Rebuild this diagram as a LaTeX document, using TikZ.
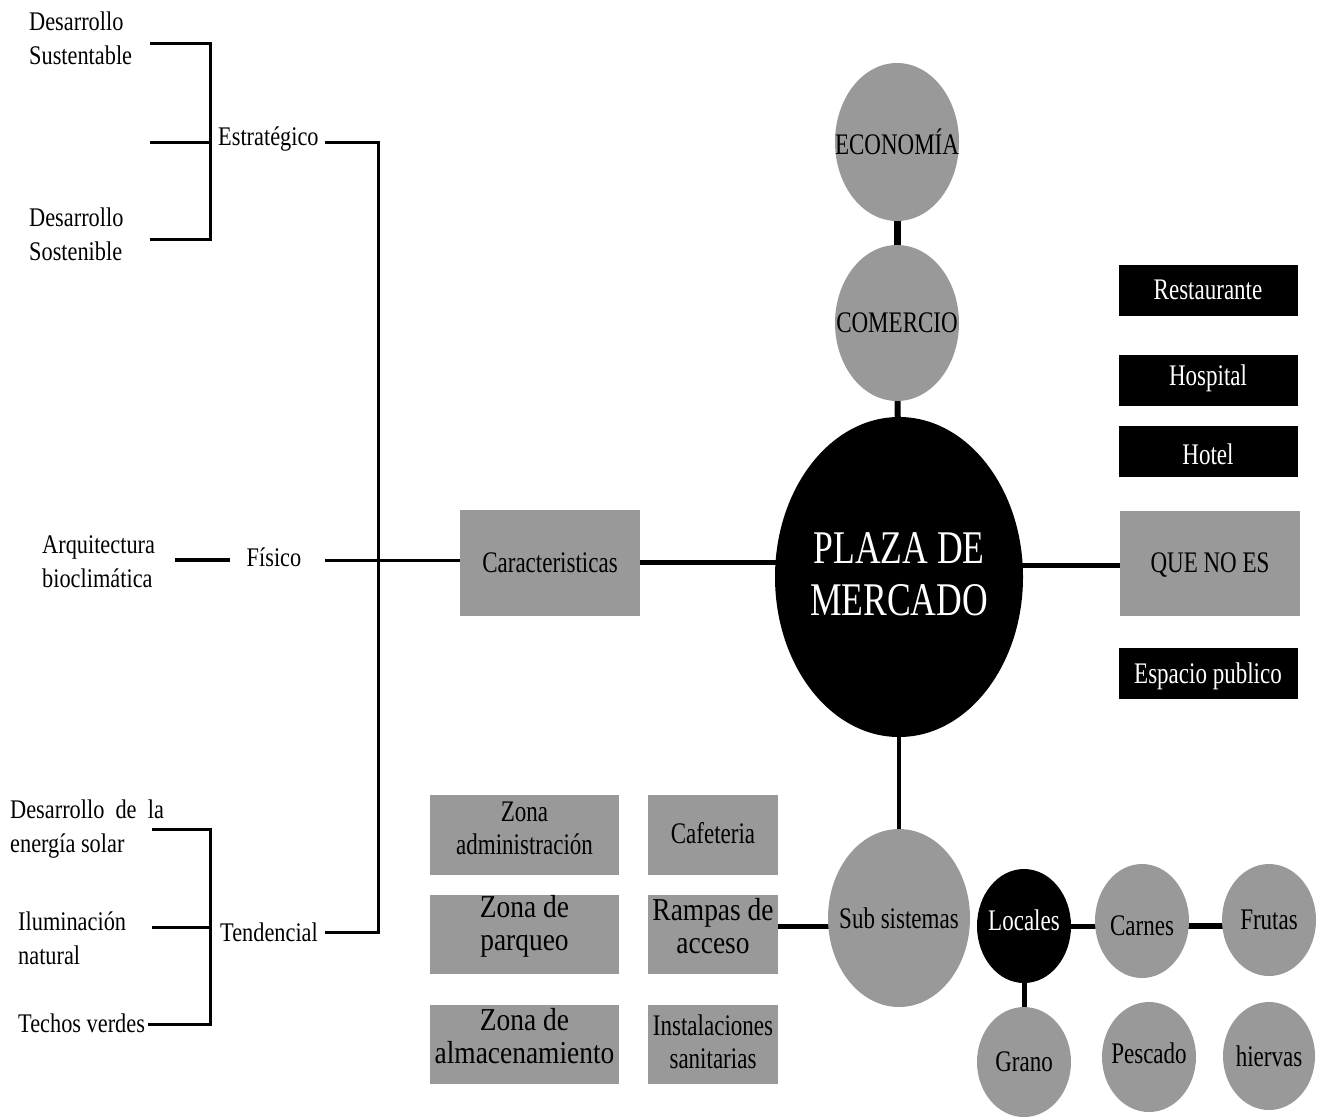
\documentclass[tikz,border=0pt]{standalone}
\usepackage{fontspec}
\setmainfont{Liberation Serif}[FakeStretch=0.77]
\newfontfamily\leftfont{Liberation Serif}[FakeStretch=0.83]
\newfontfamily\widefont{Liberation Serif}[FakeStretch=0.86]
\newfontfamily\plazafont{Liberation Serif}[FakeStretch=0.76]
\usetikzlibrary{shapes.geometric,backgrounds}
\definecolor{grayfill}{HTML}{999999}
\begin{document}
\begin{tikzpicture}[x=1bp,y=-1bp,
  txt/.style={font=\leftfont\fontsize{27}{34}\selectfont, inner sep=0pt, align=left},
  lbl/.style={inner sep=0pt, align=center, font=\fontsize{30}{33}\selectfont},
  wlbl/.style={lbl, font=\widefont\fontsize{32}{33}\selectfont},
  wht/.style={lbl, text=white},
  graybox/.style={rectangle, fill=grayfill, inner sep=0pt},
  blackbox/.style={rectangle, fill=black, inner sep=0pt, minimum width=179bp, minimum height=51bp},
  grayell/.style={ellipse, fill=grayfill, inner sep=0pt},
  blackell/.style={ellipse, fill=black, inner sep=0pt},
  thinln/.style={line width=3bp},
  midln/.style={line width=4bp},
  thickln/.style={line width=5bp},
  heavyln/.style={line width=7bp}]
\useasboundingbox (0,0) rectangle (1324,1117);

% ---------- left text nodes ----------
\node[txt, anchor=west] (sust) at (29,38) {Desarrollo\\Sustentable};
\node[txt, anchor=west] (sost) at (29,234) {Desarrollo\\Sostenible};
\node[txt, anchor=west] (estr) at (218,139) {Estratégico};
\node[txt, anchor=west] (arq) at (42,562) {Arquitectura\\bioclimática};
\node[txt] (fis) at (274,557) {Físico};
\node[txt, anchor=west] (solar) at (10,829) {Desarrollo\ \ de\ \ la\\energía solar};
\node[txt, anchor=west] (ilum) at (18,938) {Iluminación\\natural};
\node[txt, anchor=west] (techo) at (18,1023) {Techos verdes};
\node[txt, anchor=west] (tend) at (220,932) {Tendencial};

% bracket coordinates
\coordinate (s1) at (150,43);  \coordinate (s1r) at (210,43);
\coordinate (s2) at (150,142); \coordinate (s2r) at (210,142);
\coordinate (s3) at (150,239); \coordinate (s3r) at (210,239);
\coordinate (e1) at (325,142); \coordinate (e2) at (378,142);
\coordinate (t1) at (325,932); \coordinate (t2) at (378,932);
\coordinate (a1) at (175,560); \coordinate (a2) at (230,560);
\coordinate (f1) at (325,560);
\coordinate (u1) at (152,829); \coordinate (u1r) at (210,829);
\coordinate (u2) at (152,927); \coordinate (u2r) at (210,927);
\coordinate (u3) at (148,1024); \coordinate (u3r) at (210,1024);

% ---------- central nodes ----------
\node[graybox, minimum width=180bp, minimum height=106bp,
      label={[lbl]center:Caracteristicas}] (car) at (550,563) {};
\node[blackell, minimum width=248bp, minimum height=320bp,
      label={[wht, yshift=3bp, font=\plazafont\fontsize{47}{52}\selectfont]center:PLAZA DE\\MERCADO}] (plaza) at (899,577) {};
\node[graybox, minimum width=180bp, minimum height=105bp,
      label={[lbl, yshift=-2bp]center:QUE NO ES}] (que) at (1210,563) {};
\node[grayell, minimum width=124bp, minimum height=158bp,
      label={[lbl]center:ECONOMÍA}] (eco) at (897,142) {};
\node[grayell, minimum width=124bp, minimum height=156bp,
      label={[lbl]center:COMERCIO}] (com) at (897,323) {};

\node[blackbox, label={[wht]center:Restaurante}] (rest) at (1208,290) {};
\node[blackbox, label={[wht, yshift=2bp]center:Hospital}] (hosp) at (1208,380) {};
\node[blackbox, label={[wht, yshift=-3bp]center:Hotel}] (hotel) at (1208,451) {};
\node[blackbox, label={[wht, yshift=-3bp]center:Espacio publico}] (esp) at (1208,673) {};

% ---------- bottom ----------
\node[graybox, minimum width=189bp, minimum height=80bp,
      label={[lbl, yshift=7bp]center:Zona\\administración}] (zadm) at (524.5,835) {};
\node[graybox, minimum width=130bp, minimum height=80bp,
      label={[lbl, yshift=2bp]center:Cafeteria}] (caf) at (713,835) {};
\node[graybox, minimum width=189bp, minimum height=79bp,
      label={[wlbl, yshift=8bp]center:Zona de\\parqueo}] (zpar) at (524.5,934.5) {};
\node[graybox, minimum width=130bp, minimum height=79bp,
      label={[wlbl, yshift=8bp]center:Rampas de\\acceso}] (ramp) at (713,934.5) {};
\node[graybox, minimum width=189bp, minimum height=79bp,
      label={[wlbl, yshift=8bp]center:Zona de\\almacenamiento}] (zalm) at (524.5,1044.5) {};
\node[graybox, minimum width=130bp, minimum height=79bp,
      label={[lbl, yshift=3bp]center:Instalaciones\\sanitarias}] (inst) at (713,1044.5) {};

\node[grayell, minimum width=142bp, minimum height=178bp,
      label={[lbl]center:Sub sistemas}] (sub) at (899,918) {};
\node[blackell, minimum width=94bp, minimum height=114bp,
      label={[wht, yshift=6bp]center:Locales}] (loc) at (1024,926) {};
\node[grayell, minimum width=94bp, minimum height=114bp,
      label={[lbl, yshift=-5bp]center:Carnes}] (carn) at (1142,921) {};
\node[grayell, minimum width=94bp, minimum height=112bp,
      label={[lbl]center:Frutas}] (frut) at (1269,920) {};
\node[grayell, minimum width=94bp, minimum height=110bp,
      label={[lbl]center:Grano}] (gran) at (1024,1062) {};
\node[grayell, minimum width=94bp, minimum height=110bp,
      label={[lbl, yshift=4bp]center:Pescado}] (pesc) at (1149,1057) {};
\node[grayell, minimum width=92bp, minimum height=108bp,
      label={[lbl]center:hiervas}] (hier) at (1269,1056) {};

% ---------- connectors ----------
\begin{scope}[on background layer]
\draw[thinln] (s1) -- (s1r) -- (s3r) -- (s3);
\draw[thinln] (s2) -- (s2r);
\draw[thinln] (e1) -- (e2) -- (t2) -- (t1);
\draw[midln] (a1) -- (a2);
\draw[thinln] (f1) -- (f1 -| car.west);
\draw[thinln] (u1) -- (u1r) -- (u3r) -- (u3);
\draw[thinln] (u2) -- (u2r);
\draw[thickln] (car.east |- 0,562) -- (plaza.center |- 0,562);
\draw[thickln] (plaza.center |- 0,565) -- (que.west |- 0,565);
\draw[heavyln] (eco.center) -- (com.center);
\draw[line width=6bp] (com.center) -- (plaza.center);
\draw[midln] (plaza.center |- 0,700) -- (plaza.center |- sub.center);
\draw[thickln] (ramp.east |- 0,926) -- (sub.center |- 0,926);
\draw[thickln] (loc.center) -- (carn.center |- loc.center);
\draw[line width=6bp] (carn.center |- 0,926) -- (frut.center |- 0,926);
\draw[thickln] (loc.center) -- (gran.center);
\end{scope}
\end{tikzpicture}
\end{document}
